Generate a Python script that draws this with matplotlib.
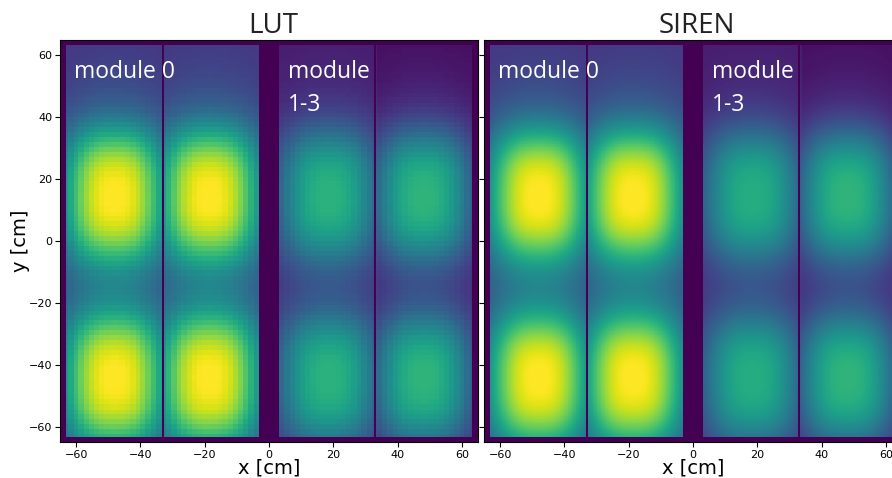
import numpy as np
import matplotlib
matplotlib.use('Agg')
import matplotlib.pyplot as plt

# Detector geometry (cm)
module_x = [(-63.2, -3.0), (3.0, 63.2)]      # module 0, modules 1-3
module_y = (-63.2, 63.2)
dead_lines = [-33.0, 33.0]                    # thin dark separators
labels = ["module 0", "module\n1-3"]

# Light yield blobs: one column per half-module
col_x = [-48.0, -18.5, 18.5, 48.0]
row_y = [15.0, -45.0]

# per column: peak height, background level (LUT / SIREN)
lut_peak = [0.85, 0.85, 0.57, 0.62]
lut_base = [0.15, 0.15, 0.07, 0.03]
siren_peak = [0.85, 0.85, 0.55, 0.62]
siren_base = [0.15, 0.15, 0.07, 0.03]

# blob shape: flat core + wide gaussian tail
core_sx, core_sy, core_p = 15.0, 21.0, 3.0
tail_sx, tail_sy = 14.0, 21.5
core_w = 0.6
lut_bin = 1.6   # LUT looks pixelated


def build_map(peak, base, binw=None):
    x = np.arange(-65, 65, 0.25) + 0.125
    y = np.arange(-65, 65, 0.25) + 0.125
    X, Y = np.meshgrid(x, y)
    if binw:
        Xq = (np.floor(X / binw) + 0.5) * binw
        Yq = (np.floor(Y / binw) + 0.5) * binw
    else:
        Xq, Yq = X, Y
    img = np.zeros_like(X)
    for cx, a, b in zip(col_x, peak, base):
        dx = np.abs(Xq - cx)
        kx = np.exp(-(dx / core_sx) ** core_p)
        tx = np.exp(-dx ** 2 / (2 * tail_sx ** 2))
        ky = sum(np.exp(-(np.abs(Yq - cy) / core_sy) ** core_p) for cy in row_y)
        ty = sum(np.exp(-(Yq - cy) ** 2 / (2 * tail_sy ** 2)) for cy in row_y)
        g = core_w * kx * ky + (1 - core_w) * tx * ty
        val = b + a * np.minimum(g, 1.0)
        inside = dx <= 15.5
        img = np.where(inside, np.maximum(img, val), img)
    mask = np.zeros_like(X, dtype=bool)
    for x0, x1 in module_x:
        mask |= (X >= x0) & (X <= x1)
    mask &= (Y >= module_y[0]) & (Y <= module_y[1])
    for xl in dead_lines:
        mask &= np.abs(X - xl) > 0.2
    return np.where(mask, img, 0.0)


fig = plt.figure(figsize=(8.92, 4.78), dpi=100)
W, H = 892, 478
ax1 = fig.add_axes([60 / W, 1 - 442 / H, 418 / W, 402 / H])
ax2 = fig.add_axes([484 / W, 1 - 442 / H, 418 / W, 402 / H])

panels = [(ax1, "LUT", build_map(lut_peak, lut_base, lut_bin)),
          (ax2, "SIREN", build_map(siren_peak, siren_base))]

for ax, title, img in panels:
    ax.imshow(img, cmap='viridis', vmin=0, vmax=1, origin='lower',
              extent=[-65, 65, -65, 65], aspect='auto', interpolation='nearest')
    ax.set_xlim(-65, 65)
    ax.set_ylim(-65, 65)
    ax.set_xticks([-60, -40, -20, 0, 20, 40, 60])
    ax.set_yticks([-60, -40, -20, 0, 20, 40, 60])
    ax.tick_params(labelsize=8, length=3.5, pad=2)
    ax.set_title(title, fontsize=20, family='Open Sans', color='#222222', pad=4,
                 x=0.51)
    ax.set_xlabel("x [cm]", fontsize=14, labelpad=-1)
    ax.text(-60.5, 58.5, labels[0], color='white', fontsize=16.5, family='Open Sans',
            va='top', ha='left')
    ax.text(5.8, 58.5, labels[1], color='white', fontsize=16.5, family='Open Sans',
            va='top', ha='left', linespacing=1.5)
    for s in ax.spines.values():
        s.set_linewidth(0.8)

ax1.set_ylabel("y [cm]", fontsize=14, labelpad=-1)
ax2.tick_params(labelleft=False)

fig.savefig("out.png", dpi=100)
